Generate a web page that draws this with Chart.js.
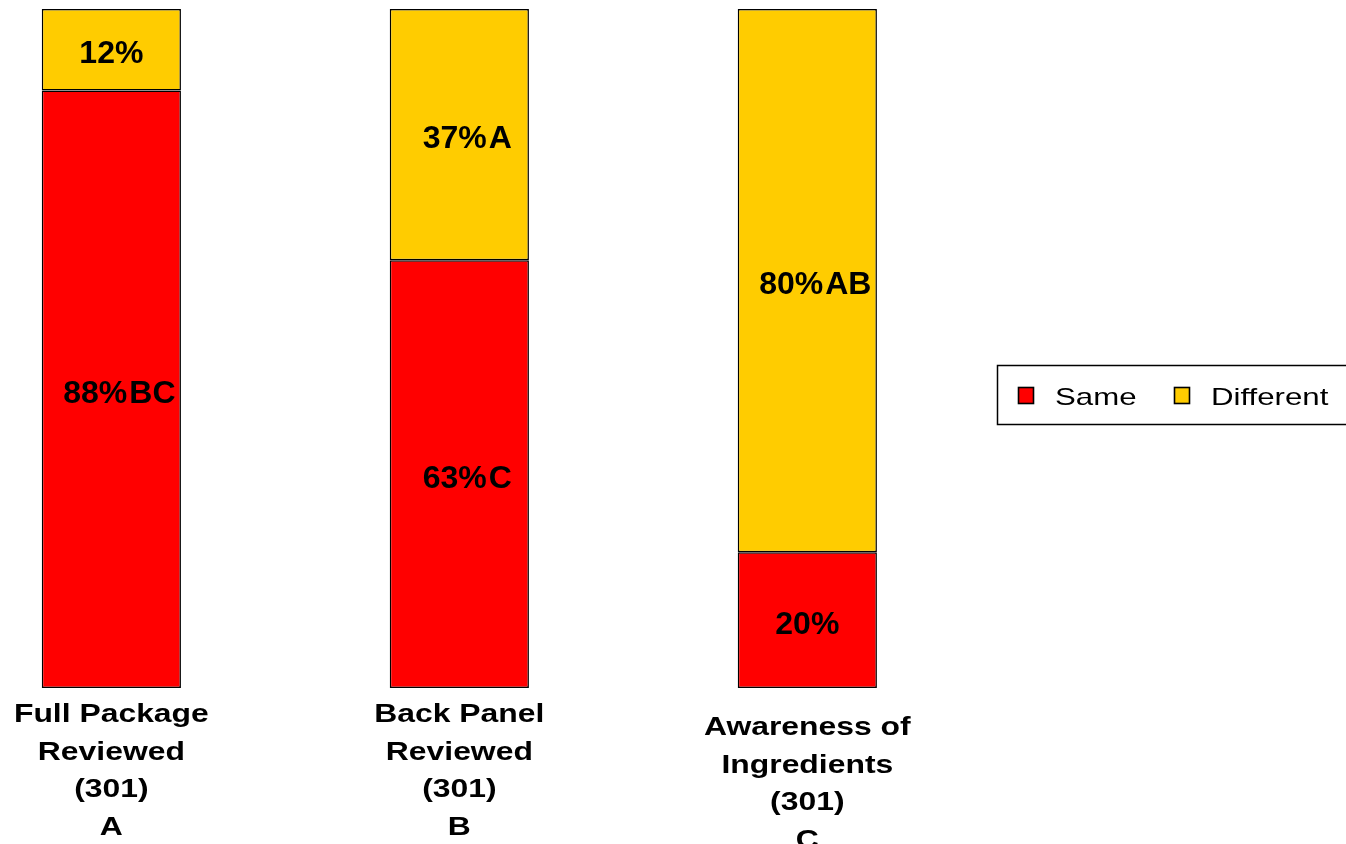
<!DOCTYPE html>
<html>
<head>
<meta charset="utf-8">
<script src="https://cdn.jsdelivr.net/npm/chart.js@4/dist/chart.umd.min.js"></script>
<style>
  html, body { margin: 0; padding: 0; background: #fff; }
  canvas { display: block; }
</style>
</head>
<body>
<canvas id="chart" width="1346" height="844"></canvas>
<script>
const categories = [
  ["Full Package", "Reviewed", "(301)", "A"],
  ["Back Panel", "Reviewed", "(301)", "B"],
  ["Awareness of", "Ingredients", "(301)", "C"]
];
const seriesNames = ["Same", "Different"];
const sameValues = [88, 63, 20];
const differentValues = [12, 37, 80];
const sameSig = ["BC", "C", ""];
const differentSig = ["", "A", "AB"];

const RED = "#ff0000";
const YELLOW = "#ffcc00";
const FONT = '"Liberation Sans", Arial, sans-serif';

// the reference text looks stretched sideways, so draw it scaled
function stretchedText(ctx, text, x, y, sx) {
  ctx.save();
  ctx.translate(x, y);
  ctx.scale(sx, 1);
  ctx.fillText(text, 0, 0);
  ctx.restore();
}

const labelPlugin = {
  id: "barLabels",
  afterDatasetsDraw(chart) {
    const ctx = chart.ctx;
    ctx.save();
    ctx.fillStyle = "#000";
    ctx.font = "bold 32px " + FONT;
    ctx.textAlign = "left";
    ctx.textBaseline = "alphabetic";
    chart.data.datasets.forEach((ds, di) => {
      const meta = chart.getDatasetMeta(di);
      meta.data.forEach((bar, i) => {
        const pct = ds.data[i].y + "%";
        const sig = ds.sig[i];
        const y = (bar.y + bar.base) / 2 + 13.5;
        const w1 = ctx.measureText(pct).width;
        const w2 = sig ? ctx.measureText(sig).width + 2 : 0;
        const cx = bar.x + (sig ? 8 : 0);
        const left = cx - (w1 + w2) / 2;
        ctx.fillText(pct, left, y);
        if (sig) ctx.fillText(sig, left + w1 + 2, y);
      });
    });
    ctx.restore();
  },
  afterDraw(chart) {
    const ctx = chart.ctx;
    const xs = chart.scales.x;
    const labelShift = [0, 0, 13];
    ctx.save();
    ctx.fillStyle = "#000";

    // category labels under the bars
    ctx.font = "bold 25.5px " + FONT;
    ctx.textAlign = "center";
    ctx.textBaseline = "alphabetic";
    categories.forEach((lines, i) => {
      const x = xs.getPixelForValue(i);
      lines.forEach((line, j) => {
        stretchedText(ctx, line, x, 722 + labelShift[i] + j * 37.5, 1.25);
      });
    });

    // legend box
    ctx.strokeStyle = "#000";
    ctx.lineWidth = 1.5;
    ctx.strokeRect(997.5, 365.5, 360, 59);
    ctx.font = "24px " + FONT;
    ctx.textAlign = "left";
    const itemX = [1018, 1174];
    chart.data.datasets.forEach((ds, i) => {
      ctx.fillStyle = ds.backgroundColor;
      ctx.fillRect(itemX[i], 387, 16, 17);
      ctx.lineWidth = 1.6;
      ctx.strokeRect(itemX[i] + 0.5, 387.5, 15, 16);
      ctx.fillStyle = "#000";
      stretchedText(ctx, ds.label, itemX[i] + 37, 405, 1.3);
    });
    ctx.restore();
  }
};

new Chart(document.getElementById("chart"), {
  type: "bar",
  data: {
    datasets: [
      {
        label: seriesNames[0],
        data: sameValues.map((v, i) => ({ x: i, y: v })),
        sig: sameSig,
        backgroundColor: RED,
        borderColor: "#000",
        borderWidth: 1.5,
        borderSkipped: false
      },
      {
        label: seriesNames[1],
        data: differentValues.map((v, i) => ({ x: i, y: v })),
        sig: differentSig,
        backgroundColor: YELLOW,
        borderColor: "#000",
        borderWidth: 1.5,
        borderSkipped: false
      }
    ]
  },
  options: {
    responsive: false,
    animation: false,
    layout: { padding: { top: 9, bottom: 156, left: 0, right: 0 } },
    categoryPercentage: 0.8,
    barPercentage: 0.5,
    plugins: { legend: { display: false }, tooltip: { enabled: false } },
    scales: {
      x: {
        type: "linear", stacked: true, offset: false,
        min: -0.32, max: 3.548, display: false,
        afterBuildTicks: (scale) => { scale.ticks = categories.map((c, i) => ({ value: i })); }
      },
      y: { stacked: true, min: 0, max: 100, display: false }
    }
  },
  plugins: [labelPlugin]
});
</script>
</body>
</html>
